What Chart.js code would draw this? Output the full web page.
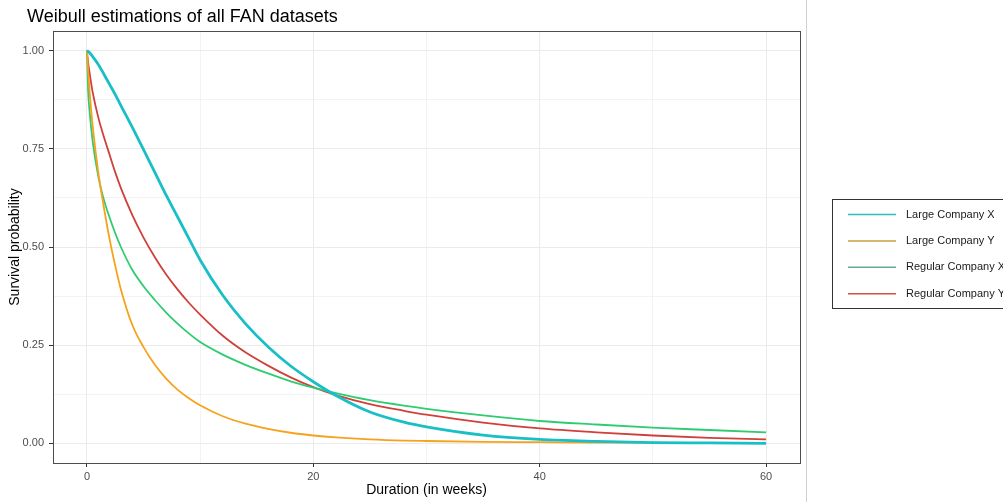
<!DOCTYPE html>
<html>
<head>
<meta charset="utf-8">
<title>Weibull estimations of all FAN datasets</title>
<script src="https://cdn.jsdelivr.net/npm/chart.js@4.4.0/dist/chart.umd.min.js"></script>
<style>
    html, body { margin: 0; padding: 0; background: #fff; overflow: hidden; }
    #wrap { position: relative; width: 1003px; height: 502px; }
</style>
</head>
<body>
<div id="wrap"><canvas id="weibullChart" width="1003" height="502"></canvas></div>
<script>
// Survival values, at these durations (weeks)
const weeks = [0, 0.1, 0.25, 0.5, 1, 1.5, 2, 2.5, 3, 4, 5, 6, 7, 8, 9, 10, 12, 14, 16, 18, 20, 22, 25, 28, 30, 35, 40, 45, 50, 55, 60];
const largeCompanyX   = [1, 0.998, 0.994, 0.985, 0.965, 0.94, 0.914, 0.888, 0.86, 0.805, 0.748, 0.69, 0.632, 0.577, 0.522, 0.467, 0.377, 0.305, 0.246, 0.197, 0.157, 0.122, 0.08, 0.054, 0.042, 0.021, 0.01, 0.005, 0.002, 0.001, 0.0];
const largeCompanyY   = [1, 0.95, 0.89, 0.81, 0.69, 0.6, 0.52, 0.452, 0.392, 0.302, 0.245, 0.2, 0.165, 0.137, 0.115, 0.097, 0.069, 0.05, 0.037, 0.027, 0.02, 0.015, 0.01, 0.007, 0.006, 0.004, 0.003, 0.002, 0.0015, 0.001, 0.001];
const regularCompanyX = [1, 0.9, 0.84, 0.77, 0.68, 0.62, 0.575, 0.535, 0.5, 0.442, 0.4, 0.365, 0.333, 0.305, 0.28, 0.258, 0.226, 0.2, 0.178, 0.158, 0.142, 0.128, 0.11, 0.096, 0.088, 0.071, 0.057, 0.048, 0.04, 0.034, 0.028];
const regularCompanyY = [1, 0.97, 0.94, 0.895, 0.83, 0.78, 0.735, 0.69, 0.65, 0.582, 0.524, 0.474, 0.43, 0.392, 0.358, 0.328, 0.274, 0.232, 0.198, 0.168, 0.143, 0.123, 0.1, 0.083, 0.073, 0.053, 0.038, 0.028, 0.02, 0.014, 0.01];

const seriesNames = ['Large Company X', 'Large Company Y', 'Regular Company X', 'Regular Company Y'];
const xTickLabels = [0, 20, 40, 60];
const xMinorTicks = [10, 30, 50];
const yTickLabels = [0, 0.25, 0.5, 0.75, 1];
const yMinorTicks = [0.125, 0.375, 0.625, 0.875];

const lineColors   = ['#19bfc6', '#f7a21b', '#2ecc71', '#d0403a'];
const legendColors = ['#2fbcc2', '#c9a23e', '#6aaa8c', '#cc5446'];
const lineWidths   = [2.8, 1.8, 1.8, 1.8];

const FONT = "'Liberation Sans', Arial, sans-serif";

function toPoints(values) {
    return weeks.map((w, i) => ({ x: w, y: values[i] }));
}

const allValues = [largeCompanyX, largeCompanyY, regularCompanyX, regularCompanyY];

// panel border, divider and the boxed legend off to the right
const ggExtras = {
    id: 'ggExtras',
    afterLayout(chart) {
        if (chart.titleBlock) chart.titleBlock.left = 27;
    },
    afterDraw(chart) {
        const ctx = chart.ctx;
        const a = chart.chartArea;
        ctx.save();
        ctx.strokeStyle = '#4d4d4d';
        ctx.lineWidth = 1;
        ctx.strokeRect(Math.round(a.left) + 0.5, Math.round(a.top) + 0.5, Math.round(a.right - a.left), Math.round(a.bottom - a.top));

        ctx.strokeStyle = '#d0d0d0';
        ctx.beginPath();
        ctx.moveTo(806.5, 0);
        ctx.lineTo(806.5, chart.height);
        ctx.stroke();

        // legend
        ctx.strokeStyle = '#333';
        ctx.strokeRect(832.5, 199.5, 200, 109);
        ctx.font = '11px ' + FONT;
        ctx.textBaseline = 'middle';
        ctx.fillStyle = '#1a1a1a';
        chart.data.datasets.forEach((ds, i) => {
            const y = 214.5 + i * 26.4;
            ctx.strokeStyle = legendColors[i];
            ctx.lineWidth = 1.5;
            ctx.beginPath();
            ctx.moveTo(848, y);
            ctx.lineTo(896, y);
            ctx.stroke();
            ctx.fillText(ds.label, 906, y);
        });
        ctx.restore();
    }
};

const isIn = (arr, v) => arr.some(t => Math.abs(t - v) < 1e-9);

const ctx = document.getElementById('weibullChart').getContext('2d');
const weibullChart = new Chart(ctx, {
    type: 'line',
    data: {
        datasets: seriesNames.map((name, i) => ({
            label: name,
            data: toPoints(allValues[i]),
            borderColor: lineColors[i],
            backgroundColor: lineColors[i],
            borderWidth: lineWidths[i],
            pointRadius: 0,
            fill: false,
            cubicInterpolationMode: 'monotone'
        }))
    },
    options: {
        responsive: false,
        animation: false,
        layout: { padding: { left: 0, right: 203, top: 0, bottom: 0 } },
        plugins: {
            legend: { display: false },
            tooltip: { enabled: false },
            title: {
                display: true,
                text: 'Weibull estimations of all FAN datasets',
                align: 'start',
                color: '#000',
                font: { family: FONT, size: 18, weight: 'normal' },
                padding: { top: 6, bottom: 3.4 }
            }
        },
        scales: {
            x: {
                type: 'linear',
                min: -3,
                max: 63,
                afterBuildTicks: s => {
                    s.ticks = [...xTickLabels, ...xMinorTicks].sort((a, b) => a - b).map(v => ({ value: v }));
                },
                afterFit: s => { s.height = 39; },
                ticks: {
                    autoSkip: false,
                    maxRotation: 0,
                    padding: 3,
                    color: '#4d4d4d',
                    font: { family: FONT, size: 11 },
                    callback: v => isIn(xTickLabels, v) ? String(v) : ''
                },
                grid: {
                    color: '#ebebeb',
                    lineWidth: c => isIn(xTickLabels, c.tick.value) ? 1 : 0.6,
                    tickColor: c => isIn(xTickLabels, c.tick.value) ? '#333' : 'rgba(0,0,0,0)',
                    tickLength: 4
                },
                border: { display: false },
                title: {
                    display: true,
                    text: 'Duration (in weeks)',
                    color: '#000',
                    font: { family: FONT, size: 14 },
                    padding: { top: 0, bottom: 3 }
                }
            },
            y: {
                type: 'linear',
                min: -0.05,
                max: 1.05,
                afterBuildTicks: s => {
                    s.ticks = [...yTickLabels, ...yMinorTicks].sort((a, b) => a - b).map(v => ({ value: v }));
                },
                afterFit: s => { s.width = 53; },
                ticks: {
                    autoSkip: false,
                    padding: 5,
                    color: '#4d4d4d',
                    font: { family: FONT, size: 11 },
                    callback: v => isIn(yTickLabels, v) ? v.toFixed(2) : ''
                },
                grid: {
                    color: '#ebebeb',
                    lineWidth: c => isIn(yTickLabels, c.tick.value) ? 1 : 0.6,
                    tickColor: c => isIn(yTickLabels, c.tick.value) ? '#333' : 'rgba(0,0,0,0)',
                    tickLength: 4
                },
                border: { display: false },
                title: {
                    display: true,
                    text: 'Survival probability',
                    color: '#000',
                    font: { family: FONT, size: 14 },
                    padding: { top: 7, bottom: 0 }
                }
            }
        }
    },
    plugins: [ggExtras]
});
</script>
</body>
</html>
